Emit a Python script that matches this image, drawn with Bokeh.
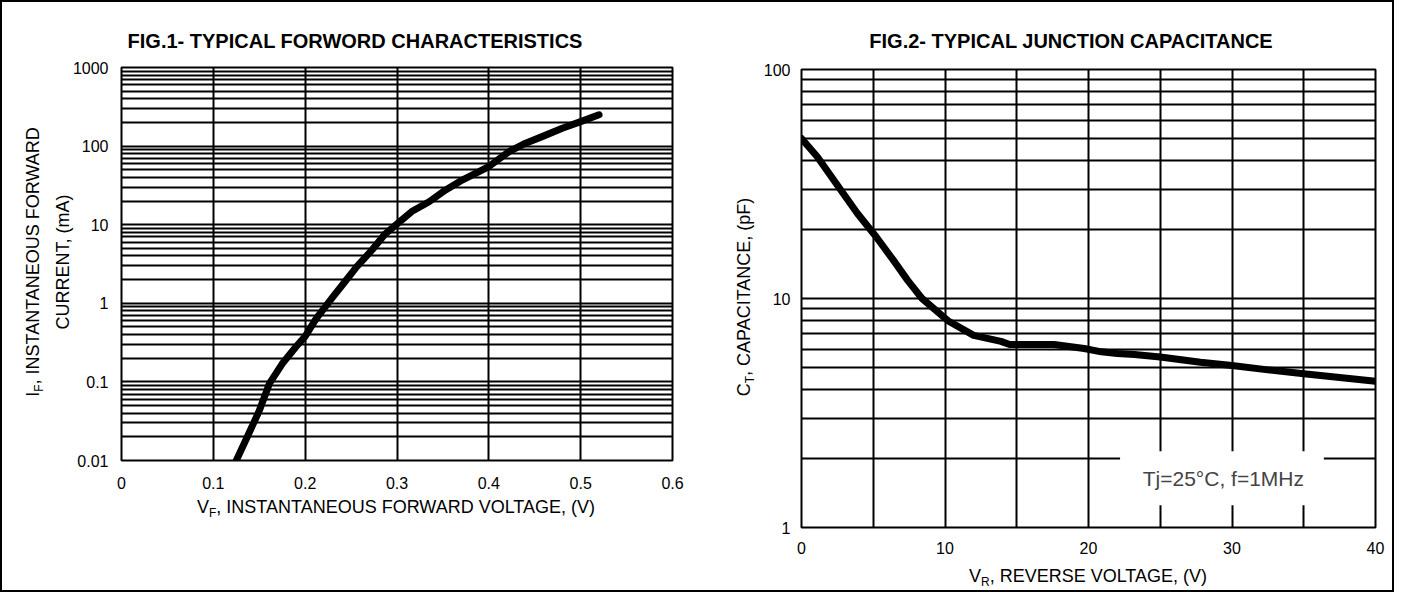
from bokeh.plotting import figure
from bokeh.models import FixedTicker, Label, BoxAnnotation, Range1d, Div
from bokeh.layouts import row
from bokeh.embed import file_html
from bokeh.resources import INLINE

FONT = "Liberation Sans"

# ---------------- data ----------------
# Fig.1  forward characteristics
vf = [0.125, 0.137, 0.150, 0.161, 0.175, 0.190, 0.200, 0.212, 0.230, 0.242,
      0.256, 0.273, 0.287, 0.300, 0.316, 0.335, 0.353, 0.371, 0.400, 0.422,
      0.440, 0.458, 0.480, 0.500, 0.520]
i_f = [0.010, 0.020, 0.043, 0.095, 0.17, 0.28, 0.38, 0.64, 1.2, 1.8,
       2.9, 4.8, 7.6, 10.2, 14.7, 19.6, 27.7, 37.0, 55.0, 85.0,
       109.0, 132.0, 169.0, 205.0, 250.0]

# Fig.2  junction capacitance
vr = [0.0, 1.1, 2.7, 3.9, 5.2, 6.4, 7.4, 8.4, 10.2, 12.0, 13.9, 14.5, 17.6,
      19.7, 20.9, 22.0, 23.2, 25.0, 27.8, 30.0, 32.5, 35.0, 37.5, 40.0]
ct = [50.0, 41.6, 30.0, 23.5, 18.6, 14.7, 12.0, 10.0, 8.0, 6.9, 6.5, 6.3, 6.3,
      6.05, 5.85, 5.75, 5.7, 5.55, 5.27, 5.1, 4.88, 4.69, 4.52, 4.35]

# ticks / labels
f1_x_ticks = [0, 0.1, 0.2, 0.3, 0.4, 0.5, 0.6]
f1_x_labels = ["0", "0.1", "0.2", "0.3", "0.4", "0.5", "0.6"]
f1_y_ticks = [0.01, 0.1, 1, 10, 100, 1000]
f1_y_labels = ["0.01", "0.1", "1", "10", "100", "1000"]
f2_x_ticks = [0, 10, 20, 30, 40]
f2_x_labels = ["0", "10", "20", "30", "40"]
f2_x_grid = [0, 5, 10, 15, 20, 25, 30, 35, 40]
f2_y_ticks = [1, 10, 100]
f2_y_labels = ["1", "10", "100"]

title1 = "FIG.1- TYPICAL FORWORD CHARACTERISTICS"
title2 = "FIG.2- TYPICAL JUNCTION CAPACITANCE"
note2 = "Tj=25\u00b0C, f=1MHz"
SUB = '<sub style="font-size:12px;vertical-align:-4px;line-height:1">{}</sub>'
xlabel1 = "V" + SUB.format("F") + ", INSTANTANEOUS FORWARD VOLTAGE, (V)"
ylabel1a = "I" + SUB.format("F") + ", INSTANTANEOUS FORWARD"
ylabel1b = "CURRENT, (mA)"
xlabel2 = "V" + SUB.format("R") + ", REVERSE VOLTAGE, (V)"
ylabel2 = "C" + SUB.format("T") + ", CAPACITANCE, (pF)"


def log_grid(lo_exp, hi_exp):
    vals = []
    for e in range(lo_exp, hi_exp):
        for m in range(1, 10):
            vals.append(round(m * 10.0 ** e, 6))
    vals.append(10.0 ** hi_exp)
    return vals


def style(p, xt, xl, yt, yl, xg, yg, xstand, ystand):
    p.outline_line_color = "black"
    p.outline_line_width = 2
    p.outline_line_alpha = 1
    p.background_fill_color = "white"
    p.border_fill_color = "white"
    p.xgrid.ticker = FixedTicker(ticks=xg)
    p.ygrid.ticker = FixedTicker(ticks=yg)
    for g in (p.xgrid, p.ygrid):
        g.grid_line_color = "black"
        g.grid_line_width = 2
        g.grid_line_alpha = 1
    p.xaxis.ticker = FixedTicker(ticks=xt)
    p.xaxis.major_label_overrides = dict(zip(xt, xl))
    p.yaxis.ticker = FixedTicker(ticks=yt)
    p.yaxis.major_label_overrides = dict(zip(yt, yl))
    for ax in (p.xaxis, p.yaxis):
        ax.axis_line_color = None
        ax.major_tick_line_color = None
        ax.minor_tick_line_color = None
        ax.major_tick_in = 0
        ax.major_tick_out = 0
        ax.minor_tick_in = 0
        ax.minor_tick_out = 0
        ax.major_label_text_font = FONT
        ax.major_label_text_font_size = "16px"
        ax.major_label_text_color = "black"
    p.xaxis.major_label_standoff = xstand
    p.yaxis.major_label_standoff = ystand


def text_div(html, cx, cy, size, bold=False, rotate=False):
    tf = "translate(-50%, -50%)" + (" rotate(-90deg)" if rotate else "")
    return Div(text=html, styles={
        "position": "absolute", "left": f"{cx}px", "top": f"{cy}px",
        "transform": tf, "font-family": f"'{FONT}'", "font-size": f"{size}px",
        "font-weight": "bold" if bold else "normal", "color": "black",
        "white-space": "nowrap", "line-height": "1", "margin": "0",
        "padding": "0"})


# ---------------- Fig.1 ----------------
p1 = figure(frame_width=551, frame_height=393,
            x_range=Range1d(0, 0.6), y_range=Range1d(0.01, 1000),
            y_axis_type="log", output_backend="svg", toolbar_location=None,
            min_border_left=119, min_border_right=30, min_border_top=65,
            min_border_bottom=130)
p1.frame_align = False
style(p1, f1_x_ticks, f1_x_labels, f1_y_ticks, f1_y_labels,
      f1_x_ticks, log_grid(-2, 3), 16, 13)
p1.line(vf, i_f, line_color="black", line_width=7, line_cap="round", line_join="round")

# ---------------- Fig.2 ----------------
p2 = figure(frame_width=574, frame_height=458,
            x_range=Range1d(0, 40), y_range=Range1d(1, 100),
            y_axis_type="log", output_backend="svg", toolbar_location=None,
            min_border_left=99, min_border_right=17, min_border_top=67,
            min_border_bottom=63)
p2.frame_align = False
style(p2, f2_x_ticks, f2_x_labels, f2_y_ticks, f2_y_labels,
      f2_x_grid, log_grid(0, 2), 14, 11)
p2.line(vr, ct, line_color="black", line_width=7, line_cap="round", line_join="round")

p2.add_layout(BoxAnnotation(left=22.2, right=36.4, bottom=1.25, top=2.15,
                            fill_color="white", fill_alpha=1, line_color=None))
p2.add_layout(Label(x=29.4, y=1.64, text=note2, text_font=FONT, text_font_size="21px",
                    text_align="center", text_baseline="middle"))

# ---------------- free texts (titles and axis titles) ----------------
divs = [
    text_div(title1, 353, 39, 20, bold=True),
    text_div(title2, 1069, 39, 20, bold=True),
    text_div(xlabel1, 394, 506, 18),
    text_div(ylabel1a, 32, 260, 18, rotate=True),
    text_div(ylabel1b, 61, 260, 18, rotate=True),
    text_div(xlabel2, 1086, 575, 18),
    text_div(ylabel2, 743, 295, 18, rotate=True),
]

layout = row(p1, p2, *divs, styles={"border": "2px solid black", "position": "relative"})

open("out.html", "w").write(file_html(layout, INLINE))
